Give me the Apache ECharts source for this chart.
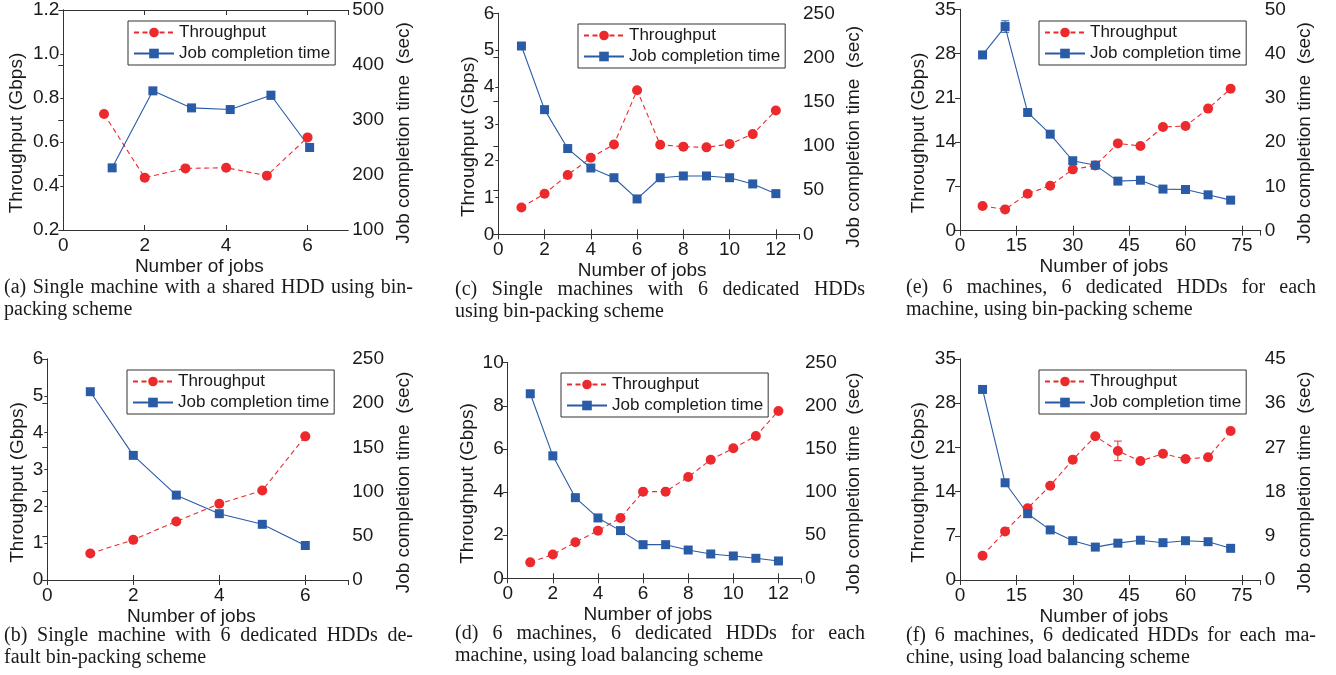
<!DOCTYPE html>
<html><head><meta charset="utf-8">
<script src="https://cdn.jsdelivr.net/npm/echarts@6/dist/echarts.min.js"></script>
<style>
html,body{margin:0;padding:0;background:#fff;}
#chart{position:absolute;left:0;top:0;width:1336px;height:675px;}
.cap{position:absolute;font-family:'Liberation Serif','Times New Roman',serif;font-size:20px;line-height:22px;color:#1a1a1a;width:409px;}
.cap .l1{text-align:justify;text-align-last:justify;}
</style></head><body>
<div id="chart"></div>
<div class="cap" style="left:4px;top:275px"><div class="l1">(a) Single machine with a shared HDD using bin-</div><div>packing scheme</div></div>
<div class="cap" style="left:455px;top:277px;width:410px"><div class="l1">(c) Single machines with 6 dedicated HDDs</div><div>using bin-packing scheme</div></div>
<div class="cap" style="left:906px;top:275px;width:410px"><div class="l1">(e) 6 machines, 6 dedicated HDDs for each</div><div>machine, using bin-packing scheme</div></div>
<div class="cap" style="left:4px;top:623px"><div class="l1">(b) Single machine with 6 dedicated HDDs de-</div><div>fault bin-packing scheme</div></div>
<div class="cap" style="left:455px;top:621px;width:410px"><div class="l1">(d) 6 machines, 6 dedicated HDDs for each</div><div>machine, using load balancing scheme</div></div>
<div class="cap" style="left:906px;top:623px;width:410px"><div class="l1">(f) 6 machines, 6 dedicated HDDs for each ma-</div><div>chine, using load balancing scheme</div></div>
<script>
// ---- data ----
const jobsA = [1, 2, 3, 4, 5, 6];
const thrA = [0.727, 0.438, 0.48, 0.483, 0.447, 0.621];
const jctJobsA = [1.2, 2.2, 3.15, 4.1, 5.1, 6.05];
const jctA = [213, 353, 322, 319, 345, 250];
const errJobsA = [5.1], errLowA = [338], errHighA = [352];

const jobsB = [1, 2, 3, 4, 5, 6];
const thrB = [0.72, 1.09, 1.59, 2.07, 2.43, 3.90];
const jctB = [213, 141, 96, 75, 63, 39];

const jobsC = [1, 2, 3, 4, 5, 6, 7, 8, 9, 10, 11, 12];
const thrC = [0.73, 1.10, 1.61, 2.08, 2.44, 3.91, 2.43, 2.38, 2.36, 2.45, 2.72, 3.36];
const jctC = [213, 141, 97, 75, 64, 40, 64, 66, 66, 64, 57, 46];

const jobsD = [1, 2, 3, 4, 5, 6, 7, 8, 9, 10, 11, 12];
const thrD = [0.74, 1.10, 1.67, 2.21, 2.80, 4.02, 4.02, 4.70, 5.50, 6.03, 6.60, 7.76];
const jctD = [214, 142, 93.5, 70, 55.3, 39, 39, 32.8, 28.2, 25.9, 23.2, 20.1];

const jobsE = [6, 12, 18, 24, 30, 36, 42, 48, 54, 60, 66, 72];
const thrE = [3.9, 3.37, 5.85, 7.1, 9.7, 10.3, 13.8, 13.4, 16.4, 16.55, 19.3, 22.45];
const jctE = [39.7, 46.1, 26.7, 21.8, 15.8, 14.8, 11.2, 11.4, 9.4, 9.3, 8.1, 6.9];
const errJobsE = [12], errLowE = [44.8], errHighE = [47.4];

const jobsF = [6, 12, 18, 24, 30, 36, 42, 48, 54, 60, 66, 72];
const thrF = [3.85, 7.7, 11.35, 14.94, 19.06, 22.76, 20.43, 18.85, 20.0, 19.17, 19.43, 23.6];
const jctF = [38.8, 19.8, 13.5, 10.2, 8.0, 6.7, 7.5, 8.1, 7.6, 8.0, 7.8, 6.45];
const errJobsF = [42], errLowF = [18.9], errHighF = [22.0];

const seriesNames = ['Throughput', 'Job completion time'];
const xTitle = 'Number of jobs';
const yLeftTitle = 'Throughput (Gbps)';
const yRightTitle = 'Job completion time  (sec)';

// ---- layout / style ----
const RED = '#ec2a2e', BLUE = '#2a5ba7', AX = '#333', TXT = '#1a1a1a';
const FONT = "'Liberation Sans', Arial, Helvetica, sans-serif";

const panels = [
  {g:[63.3,10,285,220], xMax:7, xInt:2, yl:[0.2,1.2,0.2], yr:[100,500,100], dec:1, leg:[128,21], lGap:37, rGap:46,
   thr:[jobsA,thrA], jct:[jctJobsA,jctA], errJ:[errJobsA,errLowA,errHighA]},
  {g:[498.3,13.3,300.7,221], xMax:13, xInt:2, yl:[0,6,1], yr:[0,250,50], dec:0, leg:[578,24], lGap:20.5, rGap:45.5,
   thr:[jobsC,thrC], jct:[jobsC,jctC]},
  {g:[960,9.3,300.7,221.4], xMax:80, xInt:15, yl:[0,35,7], yr:[0,50,10], dec:0, leg:[1039,21], lGap:31.5, rGap:35,
   thr:[jobsE,thrE], jct:[jobsE,jctE], errJ:[errJobsE,errLowE,errHighE]},
  {g:[47.3,359,301,221], xMax:7, xInt:2, yl:[0,6,1], yr:[0,250,50], dec:0, leg:[127,370], lGap:20.3, rGap:46,
   thr:[jobsB,thrB], jct:[jobsB,jctB]},
  {g:[507.7,362.7,293.3,215.6], xMax:13, xInt:2, yl:[0,10,2], yr:[0,250,50], dec:0, leg:[561,373], lGap:30.7, rGap:43.5,
   thr:[jobsD,thrD], jct:[jobsD,jctD]},
  {g:[960,359,300.7,221], xMax:80, xInt:15, yl:[0,35,7], yr:[0,45,9], dec:0, leg:[1039,370], lGap:32, rGap:35,
   thr:[jobsF,thrF], jct:[jobsF,jctF], errT:[errJobsF,errLowF,errHighF]}
];

const nameStyle = (pad) => ({fontSize:19, color:TXT, fontFamily:FONT, padding:pad});
const lab = {fontSize:19, color:TXT, fontFamily:FONT};
const axLine = {show:true, lineStyle:{color:AX, width:1}};
const tick = {show:true, inside:true, length:5, lineStyle:{color:AX, width:1}};
const tickOut = {show:true, inside:false, length:3, lineStyle:{color:AX, width:1}};

function errRender(color) {
  return function(params, api) {
    const x = api.value(0), lo = api.value(1), hi = api.value(2);
    const p1 = api.coord([x, lo]), p2 = api.coord([x, hi]);
    const w = 4, st = {stroke:color, lineWidth:1};
    return {type:'group', children:[
      {type:'line', shape:{x1:p1[0], y1:p1[1], x2:p2[0], y2:p2[1]}, style:st},
      {type:'line', shape:{x1:p1[0]-w, y1:p1[1], x2:p1[0]+w, y2:p1[1]}, style:st},
      {type:'line', shape:{x1:p2[0]-w, y1:p2[1], x2:p2[0]+w, y2:p2[1]}, style:st}
    ]};
  };
}

const grid = [], xAxis = [], yAxis = [], series = [], legend = [];
panels.forEach((p, i) => {
  grid.push({left:p.g[0], top:p.g[1], width:p.g[2], height:p.g[3], show:false, outerBoundsMode:'none', containLabel:false});
  xAxis.push({type:'value', gridIndex:i, position:'bottom', min:0, max:p.xMax, interval:p.xInt,
    axisLine:axLine, axisTick:tick, splitLine:{show:false},
    axisLabel:Object.assign({margin:6, showMaxLabel:false}, lab),
    name:xTitle, nameLocation:'middle', nameGap:27, nameTextStyle:nameStyle([0,13,0,0]), nameMoveOverlap:false});
  xAxis.push({type:'value', gridIndex:i, position:'top', min:0, max:p.xMax, interval:p.xInt,
    axisLine:axLine, axisTick:tick, splitLine:{show:false}, axisLabel:{show:false}});
  yAxis.push({type:'value', gridIndex:i, position:'left', min:p.yl[0], max:p.yl[1], interval:p.yl[2],
    axisLine:axLine, axisTick:tickOut, splitLine:{show:false},
    axisLabel:Object.assign({margin:4, formatter:(v)=>v.toFixed(p.dec)}, lab),
    name:yLeftTitle, nameLocation:'middle', nameRotate:90, nameGap:p.lGap, nameTextStyle:nameStyle([0,26,0,0]), nameMoveOverlap:false});
  yAxis.push({type:'value', gridIndex:i, position:'right', min:p.yr[0], max:p.yr[1], interval:p.yr[2],
    axisLine:axLine, axisTick:tick, splitLine:{show:false},
    axisLabel:Object.assign({margin:4}, lab),
    name:yRightTitle, nameLocation:'middle', nameRotate:90, nameGap:p.rGap, nameTextStyle:nameStyle([0,26,0,0]), nameMoveOverlap:false});

  if (p.errT) series.push({type:'custom', xAxisIndex:2*i, yAxisIndex:2*i, renderItem:errRender(RED), silent:true,
    encode:{x:0, y:[1,2]}, data:p.errT[0].map((x,k)=>[x, p.errT[1][k], p.errT[2][k]])});
  if (p.errJ) series.push({type:'custom', xAxisIndex:2*i, yAxisIndex:2*i+1, renderItem:errRender(BLUE), silent:true,
    encode:{x:0, y:[1,2]}, data:p.errJ[0].map((x,k)=>[x, p.errJ[1][k], p.errJ[2][k]])});

  series.push({type:'line', name:seriesNames[0], xAxisIndex:2*i, yAxisIndex:2*i,
    data:p.thr[1].map((v,k)=>[p.thr[0][k], v]),
    symbol:'circle', symbolSize:10, itemStyle:{color:RED},
    lineStyle:{color:RED, width:1.1, type:[5,3.5]}, emphasis:{disabled:true}});
  series.push({type:'line', name:seriesNames[1], xAxisIndex:2*i, yAxisIndex:2*i+1,
    data:p.jct[1].map((v,k)=>[p.jct[0][k], v]),
    symbol:'rect', symbolSize:9, itemStyle:{color:BLUE},
    lineStyle:{color:BLUE, width:1.1}, emphasis:{disabled:true}});

  legend.push({left:p.leg[0], top:p.leg[1], orient:'vertical', data:seriesNames,
    itemWidth:40, itemHeight:12, itemGap:4, padding:[3,5,3,5],
    borderColor:AX, borderWidth:1, backgroundColor:'#fff', selectedMode:false,
    textStyle:{fontSize:17, color:TXT, fontFamily:FONT}});
});

const chart = echarts.init(document.getElementById('chart'), null, {renderer:'canvas'});
chart.setOption({animation:false, backgroundColor:'#fff', grid, xAxis, yAxis, series, legend});
</script>
</body></html>
